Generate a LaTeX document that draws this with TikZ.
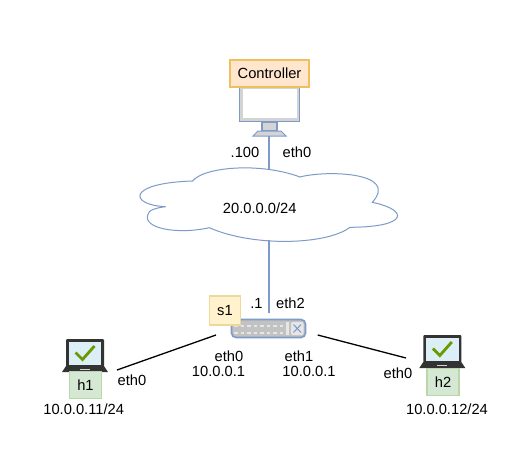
\documentclass[tikz,border=0pt]{standalone}
\usepackage{fontspec}
\setmainfont{Liberation Sans}
\definecolor{netblue}{HTML}{7E9AC8}
\definecolor{framegray}{HTML}{D4D4D4}
\definecolor{swgray}{HTML}{C2C2C2}
\definecolor{swdot}{HTML}{E6E6E6}
\definecolor{laptopdark}{HTML}{333333}
\definecolor{screenblue}{HTML}{DCEEF6}
\definecolor{checkgreen}{HTML}{6A9A00}
\definecolor{ctrlfill}{HTML}{FFE6CC}
\definecolor{ctrldraw}{HTML}{F0C060}
\definecolor{swfill}{HTML}{FFF2CC}
\definecolor{swdraw}{HTML}{EBD99B}
\definecolor{hostfill}{HTML}{D5E8D4}
\definecolor{hostdraw}{HTML}{B9D7A8}
\tikzset{
  lbl/.style={font=\fontsize{14.7}{16}\selectfont, inner sep=0pt, text=black},
  tagbox/.style={lbl, draw, line width=1.2pt, minimum height=27pt, inner sep=0pt, anchor=center},
  ctrlbox/.style={tagbox, fill=ctrlfill, draw=ctrldraw, minimum width=79pt},
  swbox/.style={tagbox, fill=swfill, draw=swdraw, minimum width=31pt, minimum height=29pt},
  hostbox/.style={tagbox, fill=hostfill, draw=hostdraw, minimum width=32pt},
  netline/.style={draw=netblue, line width=1.2pt},
  hostline/.style={draw=black, line width=1.3pt},
  cloudshape/.style={draw=netblue, line width=1pt, fill=white},
  dark/.style={fill=laptopdark, draw=none},
}
\newcommand{\laptop}[2]{%
  \begin{scope}[shift={(#1,#2)}]
    \fill[laptopdark, rounded corners=1pt] (0,0) rectangle (38,27.5);
    \fill[screenblue] (2.6,2.6) rectangle (35.4,25.5);
    \fill[dark] (0,27) -- (38,27) -- (42,33) -- (-4,33) -- cycle;
    \fill[framegray] (14,29.5) rectangle (24,31);
    \draw[checkgreen, line width=2.8pt] (9.5,13.5) -- (16.5,20.5) -- (28.5,7);
  \end{scope}}
\begin{document}
\begin{tikzpicture}[x=1pt,y=-1pt]
\useasboundingbox[fill=white] (0,0) rectangle (531,469);

% cloud
\draw[cloudshape] (192.7,181)
  .. controls (203.3,167) and (260,162) .. (300,177)
  .. controls (326,170) and (400,172) .. (372.3,202.3)
  .. controls (409,210) and (409,227) .. (350,227.3)
  .. controls (326.7,245) and (253,247) .. (209.3,227.7)
  .. controls (176.7,235) and (143,228) .. (147.7,215)
  .. controls (148,210) and (156.7,207.7) .. (165.7,206.7)
  .. controls (129,205) and (126,183) .. (192.7,181) -- cycle;
\node[lbl] (cloudlabel) at (259.7,208) {20.0.0.0/24};
\coordinate (cloudtop) at (269,169);
\coordinate (cloudbottom) at (269,240);

% controller monitor
\node[draw=netblue, line width=1.5pt, fill=framegray, minimum width=60pt, minimum height=34pt, inner sep=0pt] (monitor) at (269.5,104.5) {};
\node[fill=white, minimum width=54pt, minimum height=29pt, inner sep=0pt] (monitorscreen) at (269.5,103) {};
\node[draw=netblue, line width=1.2pt, fill=framegray, minimum width=15pt, minimum height=9pt, inner sep=0pt] (monitorneck) at (269.5,126.5) {};
\fill[framegray, draw=netblue, line width=1pt] (253,136) -- (258,131) -- (281,131) -- (286,136) -- cycle;
\coordinate (monitorbase) at (269,136);
\node[ctrlbox] (controller) at (269.5,73.5) {Controller};

% switch
\node[draw=netblue, line width=1.6pt, rounded corners=4.5pt, fill=swgray, minimum width=74pt, minimum height=18pt, inner sep=0pt] (switch) at (268.5,328.5) {};
\foreach \r in {324.5,331.5}{
  \foreach \c in {234,240.5,...,281}{\fill[swdot] (\c,\r) rectangle +(3.6,2);}
}
\fill[swdot] (286,322) rectangle +(2.6,13);
\fill[swdot, rounded corners=2pt] (291,322) rectangle (303.5,335);
\draw[netblue, line width=1pt] (293.5,324.5) -- (301,332.5) (301,324.5) -- (293.5,332.5);
\coordinate (switchtop) at (269,313);
\coordinate (switchwest) at (216,335);
\coordinate (switcheast) at (317.7,335);
\node[swbox] (s1) at (225,310.5) {s1};

% hosts
\laptop{66}{339}
\node[hostbox] (h1) at (85.5,385) {h1};
\coordinate (h1port) at (117,370);
\laptop{423.3}{335}
\node[hostbox] (h2) at (443,382) {h2};
\coordinate (h2port) at (406,358);

% connectors
\draw[netline] (monitorbase) -- (cloudtop);
\draw[netline] (cloudbottom) -- (switchtop);
\draw[hostline] (h1port) -- (switchwest);
\draw[hostline] (switcheast) -- (h2port);

% labels
\node[lbl] (l100) at (245,152) {.100};
\node[lbl] (ceth0) at (297,152) {eth0};
\node[lbl] (l1) at (256.5,303) {.1};
\node[lbl] (seth2) at (290.5,303) {eth2};
\node[lbl] (seth0) at (229,356) {eth0};
\node[lbl] (sip0) at (218.5,371) {10.0.0.1};
\node[lbl] (seth1) at (299,356) {eth1};
\node[lbl] (sip1) at (309,371) {10.0.0.1};
\node[lbl] (h1eth) at (132,380) {eth0};
\node[lbl] (h1ip) at (83.7,409) {10.0.0.11/24};
\node[lbl] (h2eth) at (398,373) {eth0};
\node[lbl] (h2ip) at (447,409) {10.0.0.12/24};
\end{tikzpicture}
\end{document}
